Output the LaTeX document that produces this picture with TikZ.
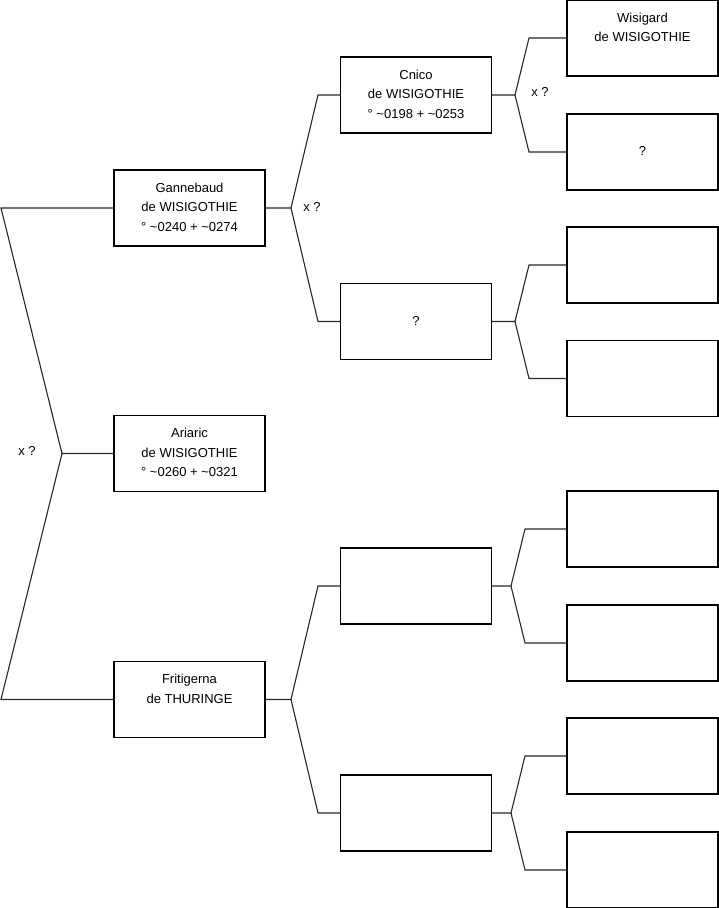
\documentclass[tikz,border=0pt]{standalone}
\usepackage{fontspec}
\setmainfont{Liberation Sans}
\begin{document}
\begin{tikzpicture}[x=1pt,y=-1pt,
  person/.style={draw=black, line width=1.1pt, minimum width=151pt, minimum height=76pt,
    inner sep=0pt, outer sep=0pt, align=center, font=\fontsize{13}{19.5}\selectfont, text=black},
  link/.style={draw=black!85, line width=1.1pt},
  lbl/.style={font=\fontsize{13}{19.5}\selectfont, text=black, inner sep=0pt}]
\useasboundingbox (0,0) rectangle (719,908);
% column 1
\node[person] (gan) at (189.5,208) {\strut Gannebaud\\\strut de WISIGOTHIE\\\strut ° \textasciitilde0240 + \textasciitilde0274};
\node[person] (ari) at (189.5,453.5) {\strut Ariaric\\\strut de WISIGOTHIE\\\strut ° \textasciitilde0260 + \textasciitilde0321};
\node[person] (fri) at (189.5,699.5) {\strut Fritigerna\\\strut de THURINGE\\\strut};
% column 2
\node[person] (cni) at (416,95) {\strut Cnico\\\strut de WISIGOTHIE\\\strut ° \textasciitilde0198 + \textasciitilde0253};
\node[person] (gq) at (416,321.5) {\strut\\\strut ?\\\strut};
\node[person] (fa) at (416,586) {};
\node[person] (fb) at (416,813) {};
% column 3
\node[person] (wis) at (642.5,38) {\strut Wisigard\\\strut de WISIGOTHIE\\\strut};
\node[person] (cq) at (642.5,152) {\strut\\\strut ?\\\strut};
\node[person] (g1) at (642.5,265) {};
\node[person] (g2) at (642.5,378.5) {};
\node[person] (f1b) at (642.5,529) {};
\node[person] (f2b) at (642.5,643) {};
\node[person] (f3b) at (642.5,756) {};
\node[person] (f4b) at (642.5,870) {};
% labels
\node[lbl] (x0) at (27,451) {x ?};
\node[lbl] (x1) at (312,207) {x ?};
\node[lbl] (x2) at (540,92) {x ?};
% fork coordinates
\coordinate (r0) at (62,453.5);
\coordinate (l1) at (1,208);
\coordinate (l2) at (1,699.5);
\coordinate (k1) at (291,208);
\coordinate (a1) at (318,95);
\coordinate (a2) at (318,321.5);
\coordinate (k2) at (291,699.5);
\coordinate (a3) at (318,586);
\coordinate (a4) at (318,813);
\coordinate (k3) at (515,95);
\coordinate (b1) at (529,38);
\coordinate (b2) at (529,152);
\coordinate (k4) at (515,321.5);
\coordinate (b3) at (529,265);
\coordinate (b4) at (529,378.5);
\coordinate (k5) at (511,586);
\coordinate (b5) at (525,529);
\coordinate (b6) at (525,643);
\coordinate (k6) at (511,813);
\coordinate (b7) at (525,756);
\coordinate (b8) at (525,870);
% connectors
\draw[link] (ari) -- (r0) -- (l1) -- (gan);
\draw[link] (r0) -- (l2) -- (fri);
\draw[link] (gan) -- (k1) -- (a1) -- (cni);
\draw[link] (k1) -- (a2) -- (gq);
\draw[link] (fri) -- (k2) -- (a3) -- (fa);
\draw[link] (k2) -- (a4) -- (fb);
\draw[link] (cni) -- (k3) -- (b1) -- (wis);
\draw[link] (k3) -- (b2) -- (cq);
\draw[link] (gq) -- (k4) -- (b3) -- (g1);
\draw[link] (k4) -- (b4) -- (g2);
\draw[link] (fa) -- (k5) -- (b5) -- (f1b);
\draw[link] (k5) -- (b6) -- (f2b);
\draw[link] (fb) -- (k6) -- (b7) -- (f3b);
\draw[link] (k6) -- (b8) -- (f4b);
\end{tikzpicture}
\end{document}
